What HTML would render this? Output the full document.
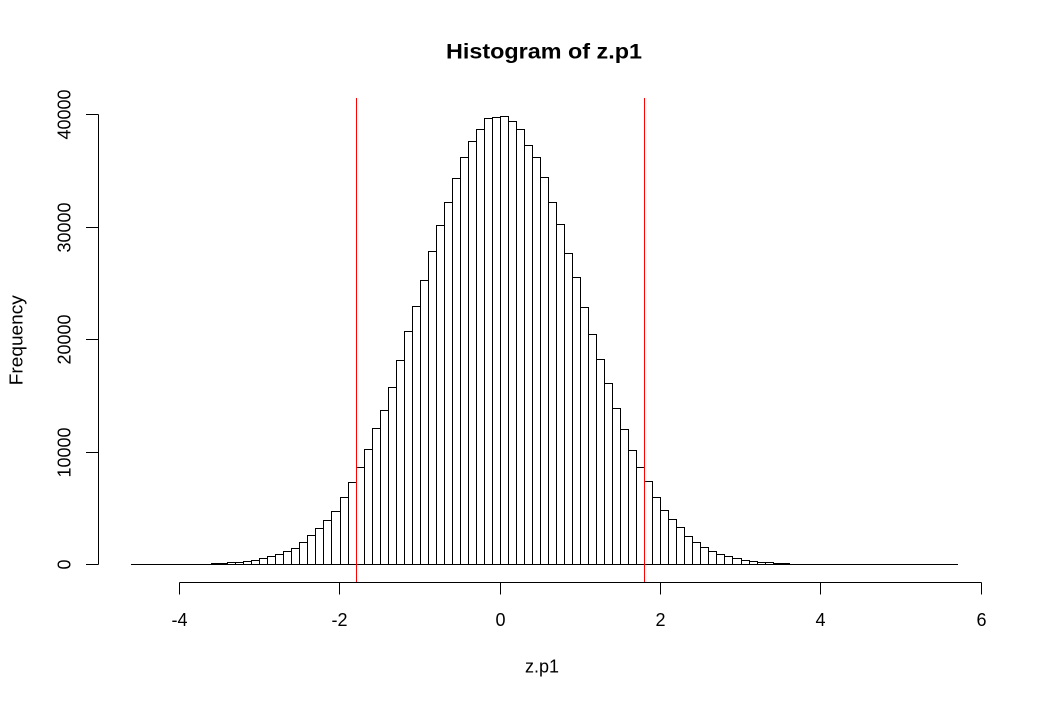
<!DOCTYPE html>
<html>
<head>
<meta charset="utf-8">
<style>
html,body{margin:0;padding:0;background:#fff;}
svg{display:block;}
text{font-family:"Liberation Sans",Arial,sans-serif;fill:#000;}
</style>
</head>
<body>
<svg width="1041" height="705" viewBox="0 0 1041 705" xmlns="http://www.w3.org/2000/svg">
<rect x="0" y="0" width="1041" height="705" fill="#fff"/>
<g fill="none" stroke="#000" stroke-width="1" shape-rendering="crispEdges">
<path d="M211.5 564.5V563.5H219.5V564.5 M219.5 564.5V563.5H227.5V564.5 M227.5 564.5V562.5H235.5V564.5 M235.5 564.5V562.5H243.5V564.5
M243.5 564.5V561.5H251.5V564.5 M251.5 564.5V560.5H259.5V564.5 M259.5 564.5V558.5H267.5V564.5 M267.5 564.5V556.5H275.5V564.5
M275.5 564.5V554.5H283.5V564.5 M283.5 564.5V551.5H291.5V564.5 M291.5 564.5V548.5H299.5V564.5 M299.5 564.5V542.5H307.5V564.5
M307.5 564.5V535.5H315.5V564.5 M315.5 564.5V528.5H323.5V564.5 M323.5 564.5V520.5H331.5V564.5 M331.5 564.5V511.5H340.5V564.5
M340.5 564.5V497.5H348.5V564.5 M348.5 564.5V482.5H356.5V564.5 M356.5 564.5V467.5H364.5V564.5 M364.5 564.5V449.5H372.5V564.5
M372.5 564.5V428.5H380.5V564.5 M380.5 564.5V410.5H388.5V564.5 M388.5 564.5V387.5H396.5V564.5 M396.5 564.5V360.5H404.5V564.5
M404.5 564.5V331.5H412.5V564.5 M412.5 564.5V306.5H420.5V564.5 M420.5 564.5V280.5H428.5V564.5 M428.5 564.5V251.5H436.5V564.5
M436.5 564.5V225.5H444.5V564.5 M444.5 564.5V202.5H452.5V564.5 M452.5 564.5V178.5H460.5V564.5 M460.5 564.5V157.5H468.5V564.5
M468.5 564.5V141.5H476.5V564.5 M476.5 564.5V129.5H484.5V564.5 M484.5 564.5V118.5H492.5V564.5 M492.5 564.5V117.5H500.5V564.5
M500.5 564.5V116.5H508.5V564.5 M508.5 564.5V121.5H516.5V564.5 M516.5 564.5V129.5H524.5V564.5 M524.5 564.5V145.5H532.5V564.5
M532.5 564.5V157.5H540.5V564.5 M540.5 564.5V177.5H548.5V564.5 M548.5 564.5V202.5H556.5V564.5 M556.5 564.5V224.5H564.5V564.5
M564.5 564.5V253.5H572.5V564.5 M572.5 564.5V277.5H580.5V564.5 M580.5 564.5V307.5H588.5V564.5 M588.5 564.5V334.5H596.5V564.5
M596.5 564.5V359.5H604.5V564.5 M604.5 564.5V383.5H612.5V564.5 M612.5 564.5V408.5H620.5V564.5 M620.5 564.5V429.5H628.5V564.5
M628.5 564.5V450.5H636.5V564.5 M636.5 564.5V467.5H644.5V564.5 M644.5 564.5V481.5H652.5V564.5 M652.5 564.5V497.5H660.5V564.5
M660.5 564.5V510.5H668.5V564.5 M668.5 564.5V519.5H676.5V564.5 M676.5 564.5V527.5H684.5V564.5 M684.5 564.5V536.5H692.5V564.5
M692.5 564.5V542.5H700.5V564.5 M700.5 564.5V547.5H708.5V564.5 M708.5 564.5V551.5H716.5V564.5 M716.5 564.5V554.5H724.5V564.5
M724.5 564.5V556.5H732.5V564.5 M732.5 564.5V558.5H741.5V564.5 M741.5 564.5V560.5H749.5V564.5 M749.5 564.5V561.5H757.5V564.5
M757.5 564.5V562.5H765.5V564.5 M765.5 564.5V562.5H773.5V564.5 M773.5 564.5V563.5H781.5V564.5 M781.5 564.5V563.5H789.5V564.5"/>
<path d="M131 564.5H958"/>
<path d="M98.5 114.5V564.5 M86 564.5H98.5 M86 452.5H98.5 M86 339.5H98.5 M86 227.5H98.5 M86 114.5H98.5"/>
<path d="M179.5 582.5H981.5 M179.5 582.5V594.5 M339.5 582.5V594.5 M500.5 582.5V594.5 M660.5 582.5V594.5 M820.5 582.5V594.5 M981.5 582.5V594.5"/>
</g>
<path d="M356.5 98V582 M644.5 98V582" stroke="#ff0000" stroke-width="1" fill="none" shape-rendering="crispEdges"/>
<text x="544" y="58.3" font-size="21.6" font-weight="bold" text-anchor="middle" textLength="196" lengthAdjust="spacingAndGlyphs">Histogram of z.p1</text>
<g font-size="18" text-anchor="middle">
<text x="179.5" y="626">-4</text>
<text x="339.5" y="626">-2</text>
<text x="500.5" y="626">0</text>
<text x="660.5" y="626">2</text>
<text x="820.5" y="626">4</text>
<text x="981.5" y="626">6</text>
<text x="542" y="672.7">z.p1</text>
<text transform="translate(70.7,564.5) rotate(-90)">0</text>
<text transform="translate(70.7,452.5) rotate(-90)">10000</text>
<text transform="translate(70.7,339.5) rotate(-90)">20000</text>
<text transform="translate(70.7,227.5) rotate(-90)">30000</text>
<text transform="translate(70.7,114.5) rotate(-90)">40000</text>
<text transform="translate(22.7,340.2) rotate(-90)" textLength="90" lengthAdjust="spacingAndGlyphs">Frequency</text>
</g>
</svg>
</body>
</html>
